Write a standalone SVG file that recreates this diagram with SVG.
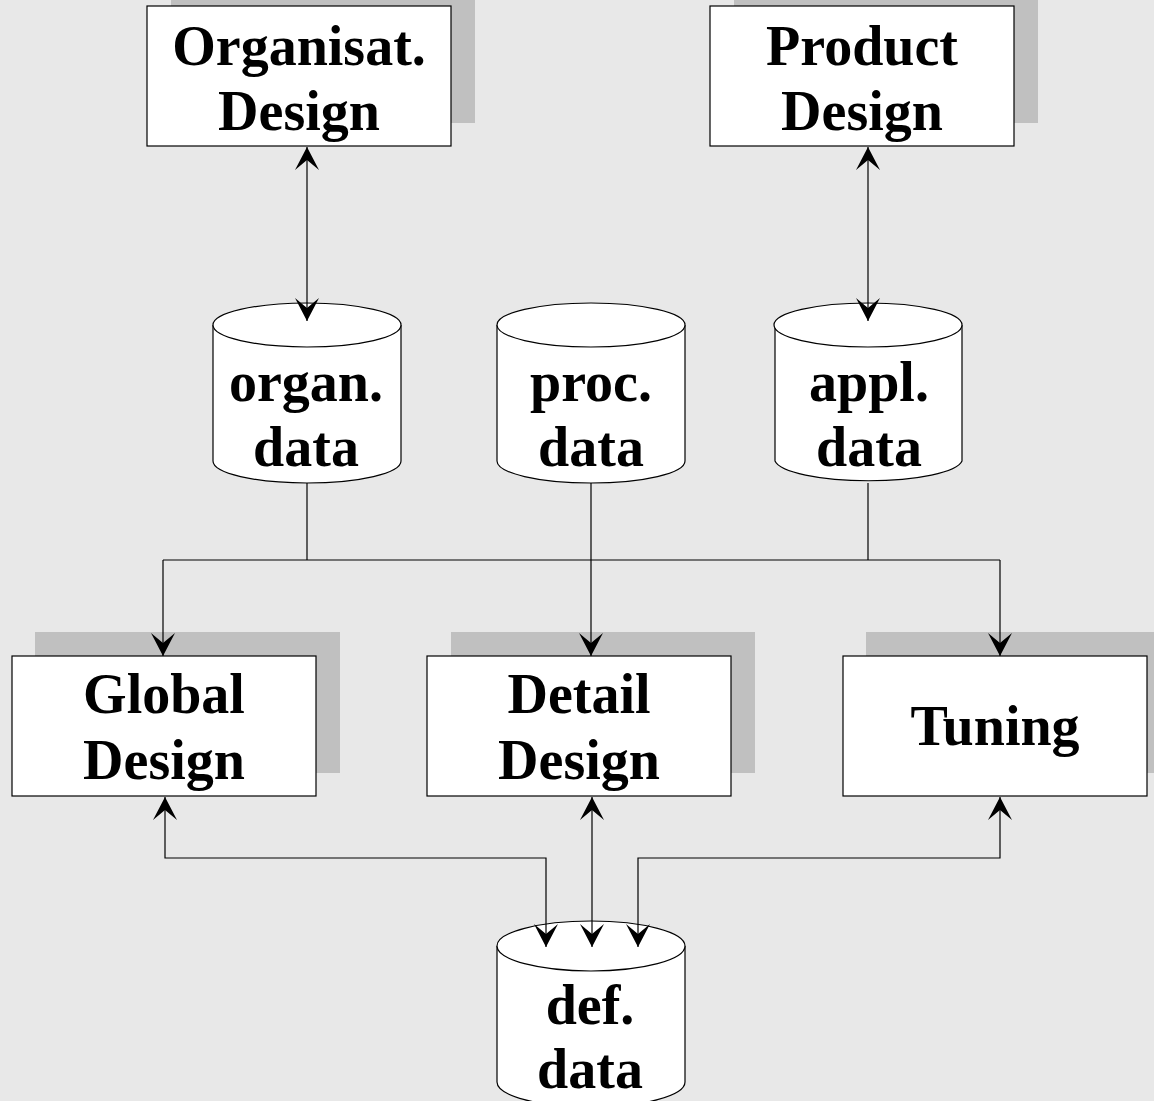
<svg xmlns="http://www.w3.org/2000/svg" width="1154" height="1101" viewBox="0 0 1154 1101">
  <style>
    .shadow { fill: #c0c0c0; }
    .box { fill: #ffffff; stroke: #000; stroke-width: 1.2; }
    .db { fill: #ffffff; stroke: #000; stroke-width: 1.2; }
    .label { font-family: "Liberation Serif", "Times New Roman", serif; font-weight: bold; font-size: 56px; text-anchor: middle; fill: #000; }
    .wire { fill: none; stroke: #000; stroke-width: 1.2; }
  </style>
  <defs>
    <marker id="head" viewBox="-26 -14 28 28" refX="0" refY="0" markerWidth="28" markerHeight="28" markerUnits="userSpaceOnUse" orient="auto-start-reverse">
      <path d="M0,0 L-23,-12 L-13,0 L-23,12 Z" fill="#000"/>
    </marker>
  </defs>

  <rect width="1154" height="1101" fill="#e8e8e8"/>

  <!-- design activities -->
  <g id="organisat-design">
    <rect class="shadow" x="171" y="0" width="304" height="123"/>
    <rect class="box" x="147" y="6" width="304" height="140"/>
    <text class="label" x="299" y="65">Organisat.</text>
    <text class="label" x="299" y="130">Design</text>
  </g>
  <g id="product-design">
    <rect class="shadow" x="734" y="0" width="304" height="123"/>
    <rect class="box" x="710" y="6" width="304" height="140"/>
    <text class="label" x="862" y="65">Product</text>
    <text class="label" x="862" y="130">Design</text>
  </g>
  <g id="global-design">
    <rect class="shadow" x="35" y="632" width="305" height="141"/>
    <rect class="box" x="12" y="656" width="304" height="140"/>
    <text class="label" x="164" y="713">Global</text>
    <text class="label" x="164" y="779">Design</text>
  </g>
  <g id="detail-design">
    <rect class="shadow" x="451" y="632" width="304" height="141"/>
    <rect class="box" x="427" y="656" width="304" height="140"/>
    <text class="label" x="579" y="713">Detail</text>
    <text class="label" x="579" y="779">Design</text>
  </g>
  <g id="tuning">
    <rect class="shadow" x="866" y="632" width="300" height="141"/>
    <rect class="box" x="843" y="656" width="304" height="140"/>
    <text class="label" x="995" y="745">Tuning</text>
  </g>

  <!-- data stores -->
  <g id="organ-data">
    <path class="db" d="M213,325 L213,461 A94,22 0 0 0 401,461 L401,325"/>
    <ellipse class="db" cx="307" cy="325" rx="94" ry="22"/>
    <text class="label" x="306" y="401">organ.</text>
    <text class="label" x="306" y="466">data</text>
  </g>
  <g id="proc-data">
    <path class="db" d="M497,325 L497,461 A94,22 0 0 0 685,461 L685,325"/>
    <ellipse class="db" cx="591" cy="325" rx="94" ry="22"/>
    <text class="label" x="591" y="401">proc.</text>
    <text class="label" x="591" y="466">data</text>
  </g>
  <g id="appl-data">
    <path class="db" d="M775,325 L775,461 A94,22 0 0 0 962,461 L962,325"/>
    <ellipse class="db" cx="868" cy="325" rx="94" ry="22"/>
    <text class="label" x="869" y="401">appl.</text>
    <text class="label" x="869" y="466">data</text>
  </g>
  <g id="def-data">
    <path class="db" d="M497,946 L497,1082 A94,25 0 0 0 685,1082 L685,946"/>
    <ellipse class="db" cx="591" cy="946" rx="94" ry="25"/>
    <text class="label" x="590" y="1024">def.</text>
    <text class="label" x="590" y="1088">data</text>
  </g>

  <!-- connectors -->
  <g id="connectors">
    <line class="wire" x1="307" y1="147" x2="307" y2="321" marker-start="url(#head)" marker-end="url(#head)"/>
    <line class="wire" x1="868" y1="147" x2="868" y2="321" marker-start="url(#head)" marker-end="url(#head)"/>
    <line class="wire" x1="307" y1="483" x2="307" y2="560"/>
    <line class="wire" x1="868" y1="483" x2="868" y2="560"/>
    <line class="wire" x1="163" y1="560" x2="1000" y2="560"/>
    <line class="wire" x1="163" y1="560" x2="163" y2="656" marker-end="url(#head)"/>
    <line class="wire" x1="591" y1="483" x2="591" y2="656" marker-end="url(#head)"/>
    <line class="wire" x1="1000" y1="560" x2="1000" y2="656" marker-end="url(#head)"/>
    <polyline class="wire" points="165,797 165,858 546,858 546,947" marker-start="url(#head)" marker-end="url(#head)"/>
    <line class="wire" x1="592" y1="797" x2="592" y2="947" marker-start="url(#head)" marker-end="url(#head)"/>
    <polyline class="wire" points="1000,797 1000,858 638,858 638,947" marker-start="url(#head)" marker-end="url(#head)"/>
  </g>
</svg>
